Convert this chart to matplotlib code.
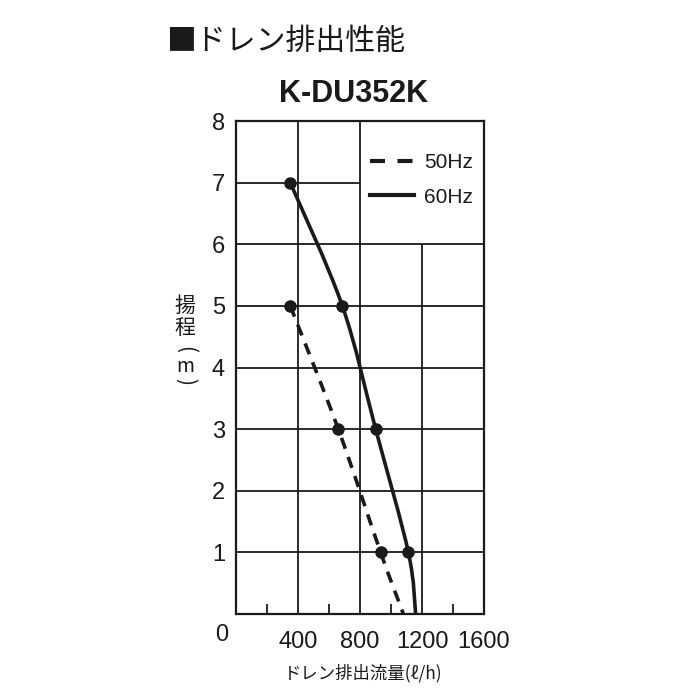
import matplotlib.pyplot as plt
from matplotlib.lines import Line2D
from matplotlib.path import Path
from matplotlib.patches import PathPatch

# 揚程(m) と ドレン排出流量(ℓ/h)
head_60 = [7, 5, 3, 1, 0]
flow_60 = [350, 686, 901, 1112, 1159]
head_50 = [5, 3, 1, 0]
flow_50 = [350, 660, 933, 1080]

x_ticks = [400, 800, 1200, 1600]
x_minor = [200, 600, 1000, 1400]
y_ticks = [1, 2, 3, 4, 5, 6, 7, 8]

INK = '#1a1a1a'
CJK = ['Noto Sans CJK JP', 'DejaVu Sans']
LAT = ['Liberation Sans', 'DejaVu Sans']


def smooth_path(xs, ys):
    # Catmull-Rom -> cubic bezier through the given points
    pts = list(zip(xs, ys))
    verts = [pts[0]]
    codes = [Path.MOVETO]
    n = len(pts)
    for i in range(n - 1):
        p0 = pts[i - 1] if i > 0 else pts[i]
        p1 = pts[i]
        p2 = pts[i + 1]
        p3 = pts[i + 2] if i + 2 < n else pts[i + 1]
        c1 = (p1[0] + (p2[0] - p0[0]) / 6, p1[1] + (p2[1] - p0[1]) / 6)
        c2 = (p2[0] - (p3[0] - p1[0]) / 6, p2[1] - (p3[1] - p1[1]) / 6)
        verts += [c1, c2, p2]
        codes += [Path.CURVE4] * 3
    return Path(verts, codes)


fig = plt.figure(figsize=(7, 7), dpi=100)
ax = fig.add_axes([236 / 700, 1 - 614 / 700, 248 / 700, 493 / 700])
ax.set_xlim(0, 1600)
ax.set_ylim(0, 8)

# grid (upper right left open for the legend)
ax.hlines([1, 2, 3, 4, 5, 6], 0, 1600, color=INK, lw=1.3, zorder=1)
ax.hlines([7], 0, 800, color=INK, lw=1.3, zorder=1)
ax.vlines([400, 800], 0, 8, color=INK, lw=1.3, zorder=1)
ax.vlines([1200], 0, 6, color=INK, lw=1.3, zorder=1)

ax.add_patch(PathPatch(smooth_path(flow_50, head_50), fill=False, ec=INK, lw=2.6,
                       linestyle=(0, (3.2, 2.4)), capstyle='butt', zorder=3))
ax.add_patch(PathPatch(smooth_path(flow_60, head_60), fill=False, ec=INK, lw=2.6,
                       zorder=3))
ax.plot(flow_50[:-1], head_50[:-1], 'o', color=INK, ms=8, zorder=4)
ax.plot(flow_60[:-1], head_60[:-1], 'o', color=INK, ms=8, zorder=4)

for s in ax.spines.values():
    s.set_linewidth(1.6)
    s.set_color(INK)

ax.set_xticks(x_ticks)
ax.set_xticklabels([str(v) for v in x_ticks], family=LAT, fontsize=17, color=INK)
ax.set_xticks(x_minor, minor=True)
ax.set_yticks(y_ticks)
ax.set_yticklabels([str(v) for v in y_ticks], family=LAT, fontsize=17, color=INK)
ax.tick_params(which='major', length=0)
ax.tick_params(axis='x', which='major', pad=12)
ax.tick_params(axis='y', which='major', pad=8)
ax.tick_params(axis='x', which='minor', direction='in', length=7, width=1.3, color=INK)

handles = [Line2D([], [], color=INK, lw=3, linestyle=(0, (3.6, 3.0))),
           Line2D([], [], color=INK, lw=3)]
ax.legend(handles, ['50Hz', '60Hz'], loc='upper left', bbox_to_anchor=(0.54, 0.935),
          frameon=False, borderpad=0, borderaxespad=0, handlelength=2.1,
          handletextpad=0.5, labelspacing=0.75,
          prop={'family': LAT, 'size': 15}, labelcolor=INK)

fig.text(222 / 700, 1 - 635 / 700, '0', family=LAT, fontsize=17, color=INK,
         ha='center', va='center')

# 縦書きの軸ラベル
ylab_x = 185 / 700
fig.text(ylab_x, 1 - 306 / 700, '揚', family=CJK, fontsize=15, color=INK,
         ha='center', va='center')
fig.text(ylab_x, 1 - 328 / 700, '程', family=CJK, fontsize=15, color=INK,
         ha='center', va='center')
fig.text(ylab_x, 1 - 349 / 700, '(', family=CJK, fontsize=15, color=INK,
         ha='center', va='center', rotation=-90)
fig.text(ylab_x, 1 - 366 / 700, 'm', family=CJK, fontsize=14, color=INK,
         ha='center', va='center')
fig.text(ylab_x, 1 - 382 / 700, ')', family=CJK, fontsize=15, color=INK,
         ha='center', va='center', rotation=-90)

fig.text(363 / 700, 1 - 673 / 700, 'ドレン排出流量(ℓ/h)', family=CJK, fontsize=12.5,
         color=INK, ha='center', va='center')
fig.text(166 / 700, 1 - 41 / 700, '■ドレン排出性能', family=CJK, fontsize=21.5,
         color=INK, ha='left', va='center')
fig.text(354 / 700, 1 - 94 / 700, 'K-DU352K', family=LAT, fontsize=22,
         fontweight='bold', color=INK, ha='center', va='center')

fig.savefig('out.png', dpi=100, facecolor='white')
